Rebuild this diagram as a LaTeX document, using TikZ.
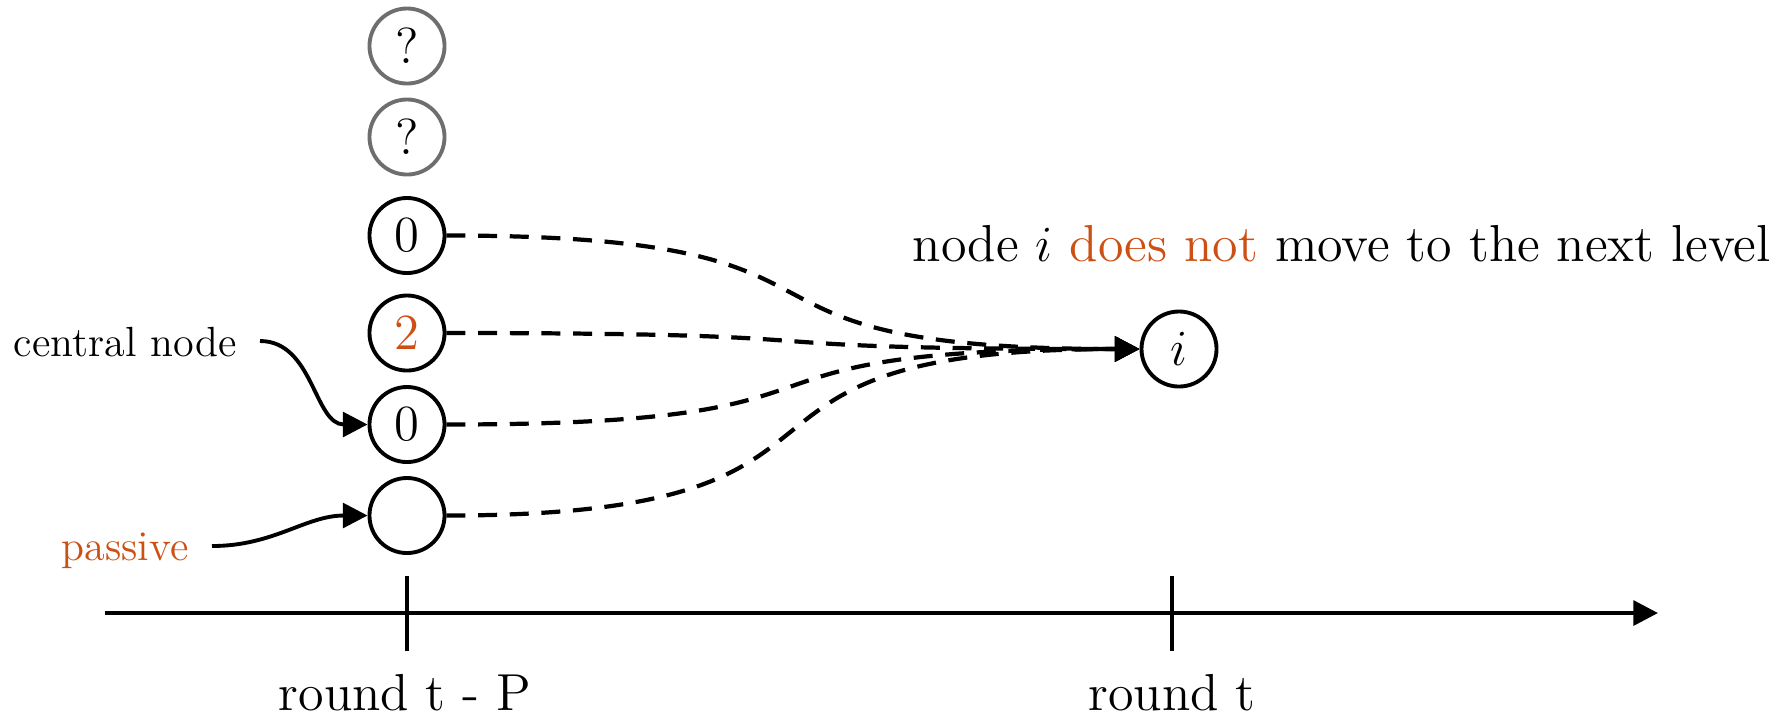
\documentclass[tikz,border=0pt]{standalone}
\usetikzlibrary{arrows.meta}
\definecolor{accent}{RGB}{204,80,20}
\definecolor{greyring}{RGB}{110,110,110}
\begin{document}
\begin{tikzpicture}[x=0.01cm,y=-0.01cm,
  ring/.style={circle,draw,line width=1.1pt,minimum size=0.75cm,inner sep=0pt,font=\fontsize{14.4}{17}\selectfont},
  qring/.style={ring,draw=greyring},
  tip/.style={-{Triangle[length=7pt,width=7pt]}},
  link/.style={tip,line width=1.2pt,dash pattern=on 5.4pt off 3.6pt,looseness=1.7},
  pointer/.style={tip,line width=1.1pt},
  bigtxt/.style={font=\fontsize{14.4}{17}\selectfont,inner sep=0pt},
  smalltxt/.style={font=\fontsize{12}{14}\selectfont,inner sep=0pt}]
\useasboundingbox (0,0) rectangle (1792,720);
% column nodes
\node[qring] (q1) at (407,46) {?};
\node[qring] (q2) at (407,137) {?};
\node[ring] (a) at (407,235.5) {0};
\node[ring] (b) at (407,333) {\textcolor{accent}{2}};
\node[ring] (c) at (407,424.5) {0};
\node[ring] (d) at (407,515.5) {};
% node i
\node[ring] (i) at (1179,349) {$i$};
% dashed links
\draw[link] (a.east) to[out=0,in=180] (i.west);
\draw[link] (b.east) to[out=0,in=180] (i.west);
\draw[link] (c.east) to[out=0,in=180] (i.west);
\draw[link] (d.east) to[out=0,in=180] (i.west);
% headline
\node[bigtxt,anchor=base west] (head) at (912,261) {\fontsize{14.8}{17}\selectfont node $i$ \textcolor{accent}{does not} move to the next level};
% side labels
\node[smalltxt,anchor=base west] (cn) at (13,356) {central node};
\node[smalltxt,anchor=base west] (pa) at (61,560) {\textcolor{accent}{passive}};
\coordinate (cnend) at (260,341);
\coordinate (paend) at (212,546);
\draw[pointer] (cnend) to[out=0,in=180] (c.west);
\draw[pointer] (paend) to[out=0,in=180] (d.west);
% time axis
\coordinate (ax0) at (105,613);
\coordinate (ax1) at (1658,613);
\draw[line width=1.2pt,-{Triangle[length=7pt,width=7pt]}] (ax0) -- (ax1);
\coordinate (t1a) at (407,576);
\coordinate (t1b) at (407,651);
\coordinate (t2a) at (1172,576);
\coordinate (t2b) at (1172,651);
\draw[line width=0.9pt] (t1a) -- (t1b);
\draw[line width=0.9pt] (t2a) -- (t2b);
\node[bigtxt,anchor=base] (r1) at (405,710) {\fontsize{14.8}{17}\selectfont round t - P};
\node[bigtxt,anchor=base] (r2) at (1172,710) {\fontsize{14.8}{17}\selectfont round t};
\end{tikzpicture}
\end{document}
